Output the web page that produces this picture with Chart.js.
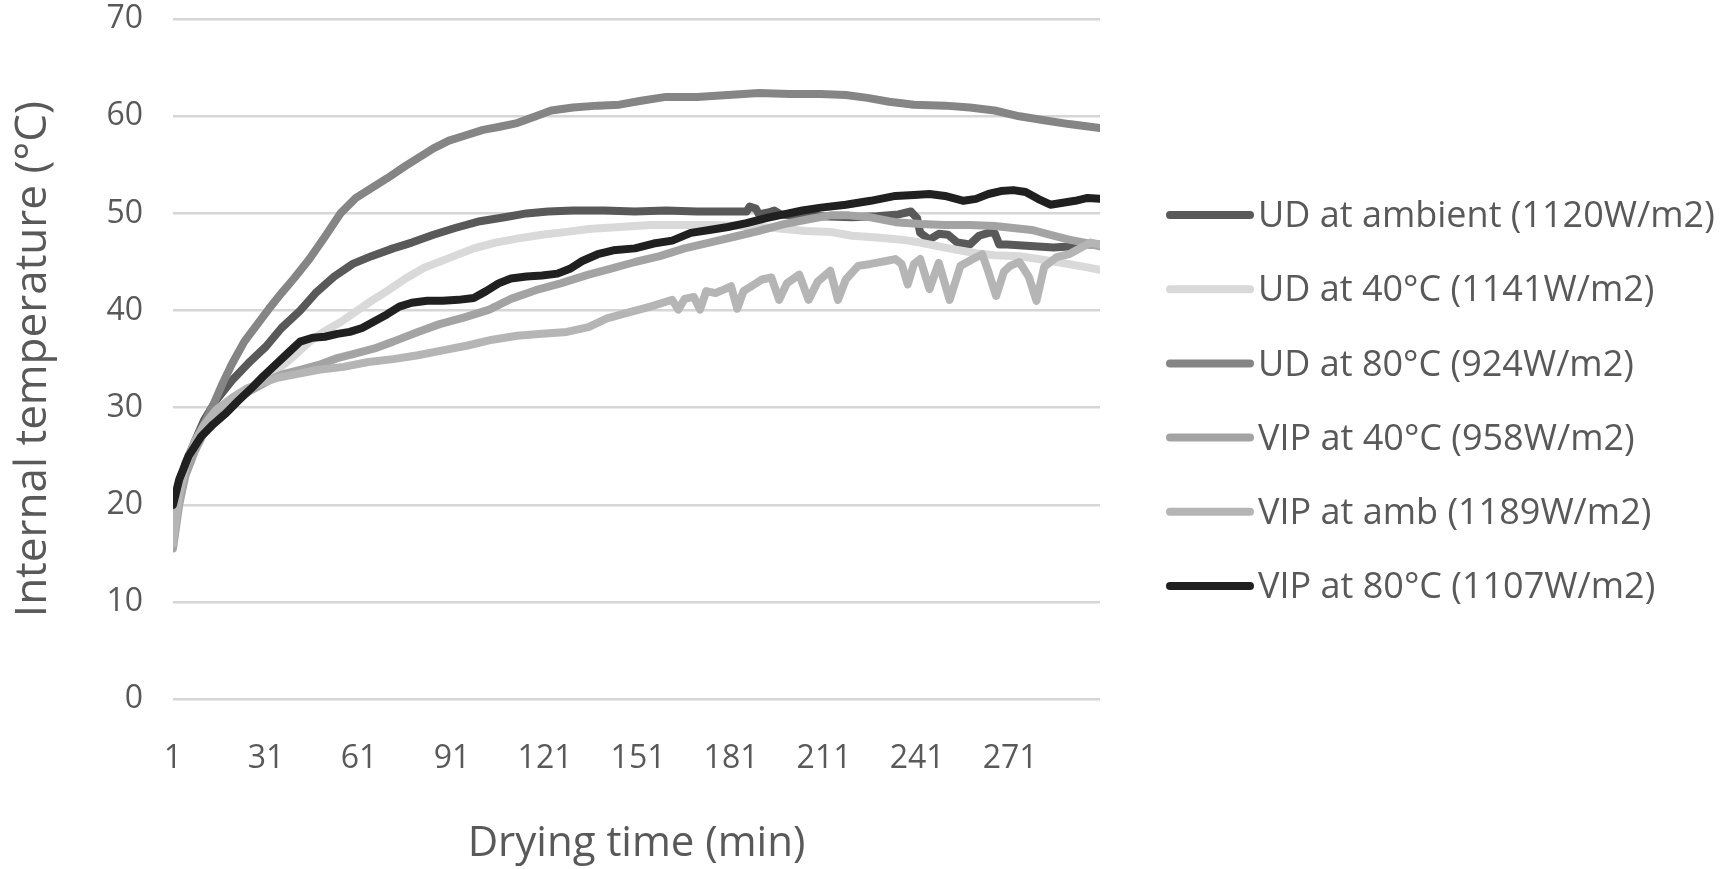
<!DOCTYPE html>
<html><head><meta charset="utf-8">
<script src="https://cdn.jsdelivr.net/npm/chart.js@4"></script>
<style>html,body{margin:0;padding:0;background:#fff;overflow:hidden}</style>
</head><body>
<canvas id="c" width="1725" height="869"></canvas>
<script>
// ---- data (time in min, temperature in °C) ----
const xTickLabels = [1, 31, 61, 91, 121, 151, 181, 211, 241, 271];
const seriesNames = ['UD at ambient (1120W/m2)', 'UD at 40°C (1141W/m2)', 'UD at 80°C (924W/m2)',
                     'VIP at 40°C (958W/m2)', 'VIP at amb (1189W/m2)', 'VIP at 80°C (1107W/m2)'];
const seriesColors = ['#595959', '#d9d9d9', '#858585', '#a3a3a3', '#b5b5b5', '#202020'];

const udAmbient = [[1,17.5],[3,21.5],[5,24],[8,26.5],[11,28.7],[15,30.8],[20,32.8],[26,34.8],[31,36.3],[36,38.2],[42,40.0],[47,41.8],[53,43.5],[59,44.8],[65,45.6],[72,46.4],[78,47.0],[85,47.8],[92,48.5],[100,49.2],[108,49.6],[115,50.0],[122,50.2],[130,50.3],[140,50.3],[150,50.2],[160,50.3],[170,50.2],[180,50.2],[186,50.2],[187,50.7],[189,50.5],[190,49.9],[193,50.1],[195,50.3],[197,49.9],[200,49.8],[210,49.7],[220,49.6],[228,49.7],[235,49.9],[239,50.2],[241,49.5],[242,48.0],[245,47.3],[248,47.9],[251,47.8],[254,47.0],[258,46.8],[261,47.7],[264,48.0],[266,48.0],[267.5,46.8],[270,46.8],[275,46.7],[280,46.6],[285,46.5],[290,46.6],[295,46.8],[300,46.8]];
const ud40 = [[1,16],[3,20.5],[5,23],[8,25.5],[11,27.3],[15,29.0],[20,30.6],[25,31.8],[30,33.0],[35,34.0],[40,35.3],[45,36.8],[50,37.9],[55,38.8],[60,39.9],[65,41.0],[70,42.0],[76,43.3],[82,44.4],[90,45.4],[98,46.4],[105,47.0],[112,47.4],[120,47.8],[128,48.1],[135,48.4],[145,48.6],[155,48.8],[165,48.8],[175,48.8],[186,48.7],[195,48.5],[205,48.2],[213,48.1],[220,47.7],[229,47.5],[236,47.3],[242,47.0],[248,46.6],[253,46.3],[260,45.9],[266,45.7],[274,45.6],[280,45.3],[288,44.9],[295,44.5],[300,44.2]];
const ud80 = [[1,17],[3,21.5],[5,24.3],[8,26.5],[11,28.3],[14,30.3],[17,32.5],[20,34.5],[24,36.8],[28,38.5],[32,40.2],[36,41.8],[40,43.3],[45,45.3],[50,47.6],[55,50.0],[60,51.6],[65,52.6],[70,53.6],[76,54.9],[80,55.7],[85,56.7],[90,57.5],[95,58.0],[101,58.6],[106,58.9],[112,59.3],[118,60.0],[123,60.6],[130,60.9],[138,61.1],[145,61.2],[152,61.6],[160,62.0],[170,62.0],[180,62.2],[190,62.4],[200,62.3],[210,62.3],[218,62.2],[225,61.9],[232,61.5],[240,61.2],[250,61.1],[258,60.9],[266,60.6],[274,60.0],[282,59.6],[290,59.2],[300,58.8]];
const vip40 = [[1,15.5],[3,20],[5,23],[8,25.5],[11,27.5],[15,29.3],[20,30.7],[24,31.4],[28,32.1],[32,32.8],[36,33.4],[42,33.9],[48,34.4],[54,35.1],[60,35.6],[66,36.1],[72,36.8],[80,37.8],[87,38.6],[95,39.3],[103,40.1],[110,41.2],[118,42.1],[126,42.8],[135,43.7],[142,44.3],[150,45.0],[158,45.6],[166,46.4],[174,47.0],[182,47.6],[190,48.2],[198,48.9],[206,49.4],[213,49.8],[219,49.8],[226,49.6],[234,49.1],[242,48.9],[250,48.8],[258,48.8],[266,48.7],[272,48.5],[278,48.3],[284,47.8],[290,47.3],[295,47.0],[300,46.6]];
const vipAmb = [[1,16],[3,21],[5,24],[8,26.5],[11,28.2],[15,29.8],[20,31],[25,32],[30,32.6],[35,33.1],[40,33.4],[48,33.9],[56,34.2],[64,34.7],[72,35.0],[80,35.4],[88,35.9],[96,36.4],[104,37.0],[112,37.4],[120,37.6],[128,37.8],[135,38.3],[141,39.2],[148,39.8],[155,40.4],[160,40.9],[162,41.1],[164,40.1],[166,41.2],[169,41.4],[171,40.1],[173,42.0],[176,41.8],[179,42.2],[181,42.5],[183,40.2],[185,42.0],[188,42.6],[191,43.2],[194,43.4],[196.5,41.1],[199,42.8],[203,43.7],[206,41.1],[209,43.0],[213,44.1],[215.5,41.1],[218,43.2],[222,44.6],[226,44.8],[231,45.1],[234,45.3],[236,44.8],[238,42.7],[240,44.8],[242,45.3],[245,42.2],[248,44.9],[251.5,41.1],[255,44.6],[259,45.3],[262,45.8],[264,44.0],[266.5,41.5],[269,44.0],[271,44.6],[274,45.0],[277,43.5],[279.5,41.0],[282,44.5],[286,45.5],[290,45.8],[294,46.5],[297,47.0],[300,46.8]];
const vip80 = [[1,20],[3,22.6],[6,25.0],[10,27.0],[14,28.3],[18,29.4],[22,30.7],[26,31.9],[30,33.2],[34,34.4],[38,35.6],[42,36.8],[46,37.2],[50,37.3],[54,37.6],[58,37.8],[62,38.2],[66,38.9],[70,39.6],[74,40.4],[78,40.8],[83,41.0],[88,41.0],[93,41.1],[98,41.3],[102,42.0],[106,42.8],[110,43.3],[115,43.5],[120,43.6],[125,43.8],[129,44.3],[133,45.1],[138,45.8],[143,46.2],[150,46.4],[156,46.9],[162,47.2],[168,48.0],[174,48.3],[180,48.6],[186,49.0],[192,49.5],[198,49.9],[204,50.3],[210,50.6],[218,50.9],[226,51.3],[234,51.8],[240,51.9],[245,52.0],[250,51.8],[256,51.3],[260,51.5],[264,52.0],[268,52.3],[272,52.4],[276,52.2],[280,51.5],[284,50.9],[288,51.1],[292,51.3],[296,51.6],[300,51.5]];

const allSeries = [udAmbient, ud40, ud80, vip40, vipAmb, vip80];

// ---- chart ----
const FONT = "'Open Sans'";
const TXT = '#595959';
const datasets = allSeries.map((s, i) => ({
  label: seriesNames[i],
  data: s.map(p => ({x: p[0], y: p[1]})),
  borderColor: seriesColors[i],
  backgroundColor: seriesColors[i],
  borderWidth: 8,
  pointRadius: 0,
  tension: 0,
  borderJoinStyle: 'round',
  borderCapStyle: 'round',
  order: allSeries.length - i
}));

// legend drawn to the right of the plot, one row per dataset
const sideLegend = {
  id: 'sideLegend',
  afterDraw(chart) {
    const ctx = chart.ctx;
    const area = chart.chartArea;
    const x0 = area.right + 70, x1 = area.right + 150, tx = area.right + 158;
    const top = 215, step = 74.2;
    ctx.save();
    ctx.font = '36px ' + FONT;
    ctx.textBaseline = 'middle';
    ctx.textAlign = 'left';
    chart.data.datasets.forEach((ds, i) => {
      const y = top + i * step;
      ctx.strokeStyle = ds.borderColor;
      ctx.lineWidth = 8;
      ctx.lineCap = 'round';
      ctx.beginPath(); ctx.moveTo(x0, y); ctx.lineTo(x1, y); ctx.stroke();
      ctx.fillStyle = TXT;
      ctx.fillText(ds.label, tx, y + 2);
    });
    ctx.restore();
  }
};

new Chart(document.getElementById('c'), {
  type: 'line',
  data: {datasets},
  plugins: [sideLegend],
  options: {
    responsive: false,
    animation: false,
    layout: {padding: {top: 0, left: 0, right: 625, bottom: 0}},
    plugins: {
      tooltip: {enabled: false},
      legend: {display: false}
    },
    scales: {
      x: {
        type: 'linear',
        min: 1, max: 300,
        afterBuildTicks: s => { s.ticks = xTickLabels.map(v => ({value: v})); },
        afterFit: s => { s.height = 170; },
        grid: {display: false, drawTicks: false},
        border: {display: false},
        ticks: {font: {family: FONT, size: 32}, color: TXT, padding: 41, autoSkip: false, maxRotation: 0},
        title: {display: true, text: 'Drying time (min)', font: {family: FONT, size: 42}, color: TXT, padding: {top: 0, bottom: 0}}
      },
      y: {
        min: 0, max: 70,
        afterFit: s => { s.width = 173; },
        ticks: {stepSize: 10, font: {family: FONT, size: 32}, color: TXT, padding: 0},
        grid: {color: '#d6d6d6', lineWidth: 2.5, drawTicks: true, tickLength: 30, tickColor: 'rgba(0,0,0,0)'},
        border: {display: false},
        title: {display: true, text: 'Internal temperature (°C)', font: {family: FONT, size: 44}, color: TXT, padding: {top: 7, bottom: 0}}
      }
    }
  }
});
</script>
</body></html>
